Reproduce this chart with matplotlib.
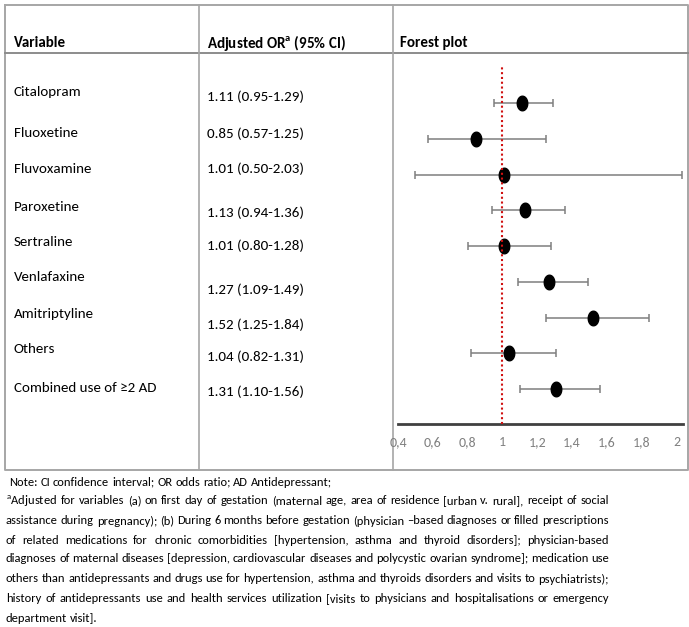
import numpy as np
import matplotlib
matplotlib.use("Agg")
import matplotlib.pyplot as plt
from matplotlib.path import Path

plt.rcParams['font.family'] = ['Carlito', 'DejaVu Sans']
plt.rcParams['mathtext.fontset'] = 'custom'
plt.rcParams['mathtext.rm'] = 'Carlito'
plt.rcParams['mathtext.bf'] = 'Carlito:bold'

# data
variables = ['Citalopram', 'Fluoxetine', 'Fluvoxamine', 'Paroxetine', 'Sertraline',
             'Venlafaxine', 'Amitriptyline', 'Others', 'Combined use of ≥2 AD']
odds = [1.11, 0.85, 1.01, 1.13, 1.01, 1.27, 1.52, 1.04, 1.31]
ci_low = [0.95, 0.57, 0.50, 0.94, 0.80, 1.09, 1.25, 0.82, 1.10]
ci_high = [1.29, 1.25, 2.03, 1.36, 1.28, 1.49, 1.84, 1.31, 1.56]
xticks = [0.4, 0.6, 0.8, 1.0, 1.2, 1.4, 1.6, 1.8, 2.0]
xtick_labels = ['0,4', '0,6', '0,8', '1', '1,2', '1,4', '1,6', '1,8', '2']

note_lines = [
    "Note: CI confidence interval; OR odds ratio; AD Antidepressant;",
    "$^{\\mathrm{a}}$Adjusted for variables (a) on first day of gestation (maternal age, area of residence [urban v. rural], receipt of social",
    "assistance during pregnancy); (b) During 6 months before gestation (physician –based diagnoses or filled prescriptions",
    "of related medications for chronic comorbidities [hypertension, asthma and thyroid disorders]; physician-based",
    "diagnoses of maternal diseases [depression, cardiovascular diseases and polycystic ovarian syndrome]; medication use",
    "others than antidepressants and drugs use for hypertension, asthma and thyroids disorders and visits to psychiatrists);",
    "history of antidepressants use and health services utilization [visits to physicians and hospitalisations or emergency",
    "department visit].",
]

# layout (pixels)
W, H = 689, 627
var_y = [92, 133, 169, 207, 242, 277, 314, 349, 388]
or_y = [97, 134, 169, 213, 246, 290, 325, 357, 392]

fig = plt.figure(figsize=(W / 100, H / 100), dpi=100)
bg = fig.add_axes([0, 0, 1, 1])
bg.set_xlim(0, W)
bg.set_ylim(H, 0)
bg.axis('off')

# table frame
frame_c = '#a6a6a6'
bg.plot([5, 688, 688, 5, 5], [5, 5, 470, 470, 5], color=frame_c, lw=1.4)
bg.plot([5, 688], [53, 53], color='#8c8c8c', lw=1.4)
bg.plot([199, 199], [5, 470], color=frame_c, lw=1.2)
bg.plot([393, 393], [5, 470], color=frame_c, lw=1.2)

body = 10.8
bg.text(14, 43, 'Variable', fontsize=body, fontweight='bold', va='center')
bg.text(207, 43, 'Adjusted OR$^{\\mathbf{a}}$ (95% CI)', fontsize=body, fontweight='bold', va='center')
bg.text(400, 43, 'Forest plot', fontsize=body, fontweight='bold', va='center')

for name, o, lo, hi, vy, oy in zip(variables, odds, ci_low, ci_high, var_y, or_y):
    bg.text(14, vy, name, fontsize=body, va='center')
    bg.text(207, oy, f'{o:.2f} ({lo:.2f}-{hi:.2f})', fontsize=body, va='center')

# forest plot
x0, x1, top, bottom = 398, 683, 65, 424
ax = fig.add_axes([x0 / W, 1 - bottom / H, (x1 - x0) / W, (bottom - top) / H])
ax.set_facecolor('none')
ax.set_xlim(0.4, 0.4 + (x1 - x0) / 174)
row0, step = 103, 35.75
ax.set_ylim((bottom - row0) / step, (top - row0) / step)
rows = np.arange(len(odds))

ax.hlines(rows, ci_low, ci_high, color='#7f7f7f', lw=1.1, zorder=2)
ax.plot(ci_low, rows, ls='none', marker='|', ms=6, mew=1.1, color='#7f7f7f', zorder=2)
ax.plot(ci_high, rows, ls='none', marker='|', ms=6, mew=1.1, color='#7f7f7f', zorder=2)

t = np.linspace(0, 2 * np.pi, 60)
ellipse = Path(np.column_stack([0.72 * np.cos(t), np.sin(t)]))
ax.plot(odds, rows, ls='none', marker=ellipse, ms=10.5, color='black', zorder=3)
ax.axvline(1, color='#d01010', lw=1.5, ls=(0, (1, 1.3)), zorder=4)

for s in ['top', 'left', 'right']:
    ax.spines[s].set_visible(False)
ax.spines['bottom'].set_color('#404040')
ax.spines['bottom'].set_linewidth(2)
ax.set_yticks([])
ax.set_xticks(xticks)
ax.set_xticklabels(xtick_labels)
ax.tick_params(axis='x', length=0, pad=9, labelsize=10, labelcolor='#808080')

# notes, justified like the source
renderer = fig.canvas.get_renderer()
note_size = 9
probe1 = bg.text(0, 0, 'x x', fontsize=note_size)
probe2 = bg.text(0, 0, 'xx', fontsize=note_size)
space_w = probe1.get_window_extent(renderer).width - probe2.get_window_extent(renderer).width
probe1.remove()
probe2.remove()

note_y = [482, 501, 521, 540, 559, 579, 599, 618]
for i, (line, ny) in enumerate(zip(note_lines, note_y)):
    lx = 9 if i == 0 else 6
    justify = 0 < i < len(note_lines) - 1
    words = line.split(' ')
    texts = [bg.text(0, ny, w, fontsize=note_size, va='center') for w in words]
    widths = [tx.get_window_extent(renderer).width for tx in texts]
    if justify:
        gap = max((609 - lx - sum(widths)) / (len(words) - 1), space_w * 0.6)
    else:
        gap = space_w
    xpos = lx
    for tx, w in zip(texts, widths):
        tx.set_x(xpos)
        xpos += w + gap

fig.savefig('out.png', dpi=100)
